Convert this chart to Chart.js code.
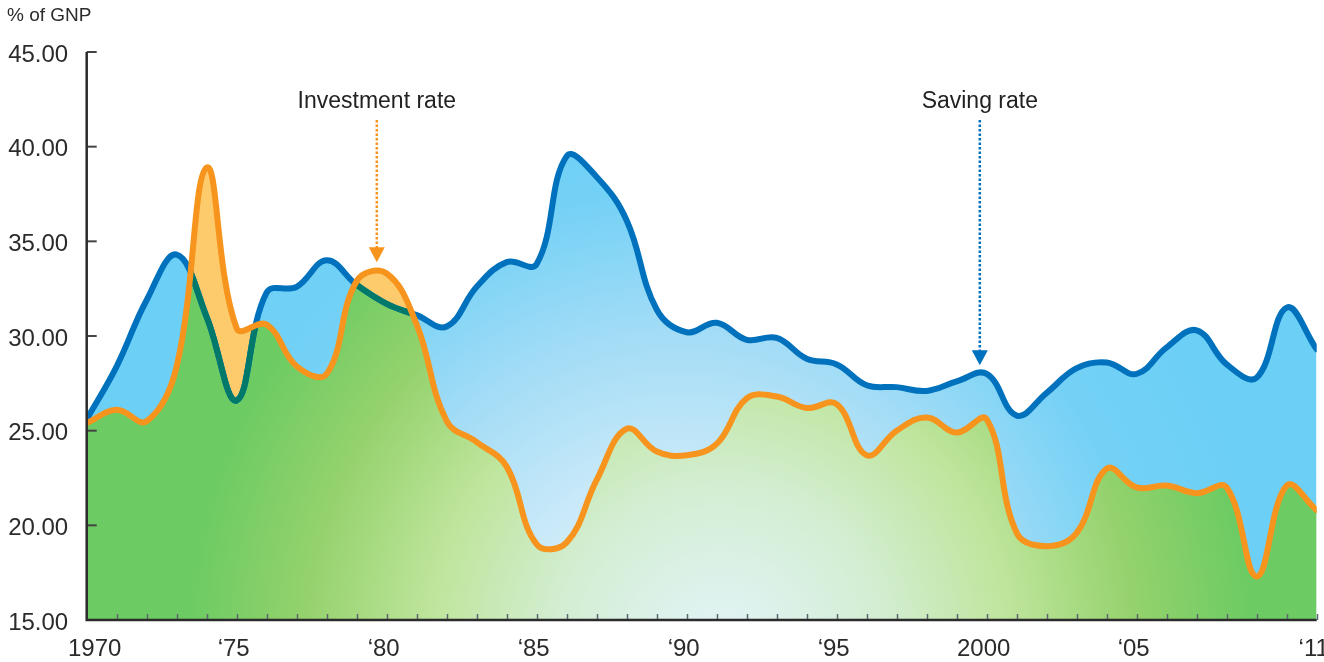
<!DOCTYPE html>
<html>
<head>
<meta charset="utf-8">
<script src="https://cdn.jsdelivr.net/npm/chart.js@4/dist/chart.umd.min.js"></script>
<style>
  html, body { margin: 0; padding: 0; background: #ffffff; }
  #wrap { width: 1324px; height: 662px; position: relative; }
</style>
</head>
<body>
<div id="wrap"><canvas id="c" width="1324" height="662"></canvas></div>
<script>
// ---------------- data ----------------
const years = [
  1970,1971,1972,1973,1974,1975,1976,1977,1978,1979,
  1980,1981,1982,1983,1984,1985,1986,1987,1988,1989,
  1990,1991,1992,1993,1994,1995,1996,1997,1998,1999,
  2000,2001,2002,2003,2004,2005,2006,2007,2008,2009,2010,2011
];
const savingRate = [
  25.6,28.4,31.9,34.3,31.0,26.6,32.3,32.6,34.0,32.7,
  31.7,31.1,30.5,32.6,33.9,33.8,39.5,38.4,36.1,31.4,
  30.2,30.7,29.8,29.9,28.8,28.5,27.4,27.3,27.1,27.6,
  28.0,25.8,27.0,28.3,28.6,28.0,29.4,30.3,28.5,27.8,31.5,29.3
];
const investmentRate = [
  25.4,26.1,25.5,28.4,38.9,30.4,30.6,28.4,28.0,32.9,
  33.3,30.6,25.5,24.4,23.1,19.0,19.1,22.4,25.1,23.9,
  23.7,24.3,26.7,26.8,26.2,26.4,23.7,25.0,25.7,24.9,
  25.6,19.6,18.9,19.6,23.0,22.0,22.1,21.7,22.0,17.3,22.1,20.8
];
const xLabelYears = [1970,1975,1980,1985,1990,1995,2000,2005,2011];
const xLabelTexts = ['1970','\u201875','\u201880','\u201885','\u201890','\u201895','2000','\u201805','\u201811'];
const yTickValues = [15,20,25,30,35,40,45];
const unitLabel = '% of GNP';
const annotations = [
  { text: 'Investment rate', year: 1979.67, tipValue: 33.9, color: '#f7941e' },
  { text: 'Saving rate',     year: 1999.77, tipValue: 28.45, color: '#0071bc' }
];

// ---------------- styles ----------------
const BLUE = '#0071bc', ORANGE = '#f7941e', TEAL = '#00786a', ORANGE_FILL = '#fecb6c';
const FONT = '"Liberation Sans", Arial, Helvetica, sans-serif';

const canvas = document.getElementById('c');
const c2d = canvas.getContext('2d');

const blueGrad = c2d.createRadialGradient(680, 660, 0, 680, 660, 600);
blueGrad.addColorStop(0, '#e8f6fc');
blueGrad.addColorStop(0.3, '#cbeaf9');
blueGrad.addColorStop(0.55, '#a2dcf6');
blueGrad.addColorStop(0.78, '#74d1f6');
blueGrad.addColorStop(1, '#6ccff6');

const greenGrad = c2d.createRadialGradient(720, 650, 0, 720, 650, 580);
greenGrad.addColorStop(0, '#e3f4fa');
greenGrad.addColorStop(0.28, '#d3eed3');
greenGrad.addColorStop(0.5, '#bfe59c');
greenGrad.addColorStop(0.72, '#94d26c');
greenGrad.addColorStop(0.92, '#6ccb63');
greenGrad.addColorStop(1, '#6ccb63');

const pts = arr => years.map((y, i) => ({ x: y, y: arr[i] }));

function tracePath(ctx, points) {
  ctx.moveTo(points[0].x, points[0].y);
  for (let i = 1; i < points.length; i++) {
    const p = points[i - 1], q = points[i];
    if (p.cp2x !== undefined && q.cp1x !== undefined) {
      ctx.bezierCurveTo(p.cp2x, p.cp2y, q.cp1x, q.cp1y, q.x, q.y);
    } else {
      ctx.lineTo(q.x, q.y);
    }
  }
}

const decorPlugin = {
  id: 'decor',
  afterDatasetDraw(chart, args) {
    if (args.index !== 1) return;
    const ctx = chart.ctx, area = chart.chartArea;
    const inv = chart.getDatasetMeta(0).data;
    const sav = chart.getDatasetMeta(1).data;
    ctx.save();
    ctx.beginPath();
    ctx.rect(area.left - 5, area.top - 10, area.right - area.left + 10, area.bottom - area.top + 20);
    ctx.clip();
    ctx.beginPath();
    tracePath(ctx, inv);
    ctx.lineTo(area.right + 10, area.bottom + 10);
    ctx.lineTo(area.left - 10, area.bottom + 10);
    ctx.closePath();
    ctx.clip();
    ctx.beginPath();
    tracePath(ctx, sav);
    ctx.strokeStyle = TEAL;
    ctx.lineWidth = 6;
    ctx.lineJoin = 'round';
    ctx.lineCap = 'round';
    ctx.stroke();
    ctx.restore();
  },
  afterDatasetsDraw(chart) {
    const ctx = chart.ctx, area = chart.chartArea;
    const xs = chart.scales.x, ys = chart.scales.y;
    ctx.save();
    // x tick marks
    ctx.strokeStyle = '#5f6670';
    ctx.lineWidth = 1.5;
    for (let yr = years[0] + 1; yr <= years[years.length - 1]; yr++) {
      const x = Math.round(xs.getPixelForValue(yr)) + 0.5;
      ctx.beginPath();
      ctx.moveTo(x, area.bottom);
      ctx.lineTo(x, area.bottom - 6);
      ctx.stroke();
    }
    // y tick marks
    ctx.strokeStyle = '#444';
    ctx.lineWidth = 2;
    yTickValues.forEach(v => {
      if (v === yTickValues[0]) return;
      const y = ys.getPixelForValue(v);
      ctx.beginPath();
      ctx.moveTo(area.left, y);
      ctx.lineTo(area.left + 10, y);
      ctx.stroke();
    });
    // axes
    ctx.strokeStyle = '#2b2b2b';
    ctx.lineWidth = 2.5;
    ctx.beginPath();
    ctx.moveTo(area.left, area.top);
    ctx.lineTo(area.left, area.bottom);
    ctx.lineTo(area.right, area.bottom);
    ctx.stroke();
    // x labels
    ctx.fillStyle = '#2b2b2b';
    ctx.font = '24px ' + FONT;
    ctx.textAlign = 'center';
    ctx.textBaseline = 'middle';
    xLabelYears.forEach((yr, i) => {
      const dx = i === 0 ? 8 : -3;
      ctx.fillText(xLabelTexts[i], xs.getPixelForValue(yr) + dx, 649);
    });
    // unit label
    ctx.font = '19px ' + FONT;
    ctx.textAlign = 'left';
    ctx.textBaseline = 'alphabetic';
    ctx.fillText(unitLabel, 7, 21);
    // annotations
    annotations.forEach(a => {
      const x = xs.getPixelForValue(a.year);
      const tip = ys.getPixelForValue(a.tipValue);
      ctx.fillStyle = '#222';
      ctx.font = '23px ' + FONT;
      ctx.textAlign = 'center';
      ctx.textBaseline = 'alphabetic';
      ctx.fillText(a.text, x, 108);
      ctx.strokeStyle = a.color;
      ctx.lineWidth = 2.5;
      ctx.setLineDash([2.5, 2]);
      ctx.beginPath();
      ctx.moveTo(x, 120);
      ctx.lineTo(x, tip - 14);
      ctx.stroke();
      ctx.setLineDash([]);
      ctx.fillStyle = a.color;
      ctx.beginPath();
      ctx.moveTo(x - 8, tip - 15);
      ctx.lineTo(x + 8, tip - 15);
      ctx.lineTo(x, tip);
      ctx.closePath();
      ctx.fill();
    });
    ctx.restore();
  }
};

new Chart(canvas, {
  type: 'line',
  data: {
    datasets: [
      {
        label: 'Investment rate',
        data: pts(investmentRate),
        borderColor: ORANGE,
        borderWidth: 6,
        pointRadius: 0,
        fill: false,
        tension: 0.4,
        borderCapStyle: 'round',
        borderJoinStyle: 'round',
        order: 0
      },
      {
        label: 'Saving rate',
        data: pts(savingRate),
        borderColor: BLUE,
        borderWidth: 6,
        pointRadius: 0,
        backgroundColor: blueGrad,
        fill: { target: 0, above: blueGrad, below: ORANGE_FILL },
        tension: 0.4,
        borderCapStyle: 'round',
        borderJoinStyle: 'round',
        order: 1
      },
      {
        label: 'base',
        data: pts(investmentRate),
        borderWidth: 0,
        borderColor: 'rgba(0,0,0,0)',
        pointRadius: 0,
        backgroundColor: greenGrad,
        fill: 'start',
        tension: 0.4,
        order: 2
      }
    ]
  },
  options: {
    responsive: false,
    animation: false,
    events: [],
    layout: { padding: { left: 0, top: 52, right: 7.3, bottom: 42 } },
    plugins: {
      legend: { display: false },
      tooltip: { enabled: false },
      filler: { drawTime: 'beforeDatasetsDraw' }
    },
    scales: {
      x: {
        type: 'linear',
        min: years[0],
        max: years[years.length - 1],
        display: false
      },
      y: {
        type: 'linear',
        min: 15,
        max: 45,
        afterFit: s => { s.width = 86.7; },
        grid: { display: false, drawTicks: false },
        border: { display: false },
        ticks: {
          stepSize: 5,
          padding: 18.5,
          labelOffset: 3,
          color: '#2b2b2b',
          font: { family: FONT, size: 24 },
          callback: v => Number(v).toFixed(2)
        }
      }
    }
  },
  plugins: [decorPlugin]
});
</script>
</body>
</html>
